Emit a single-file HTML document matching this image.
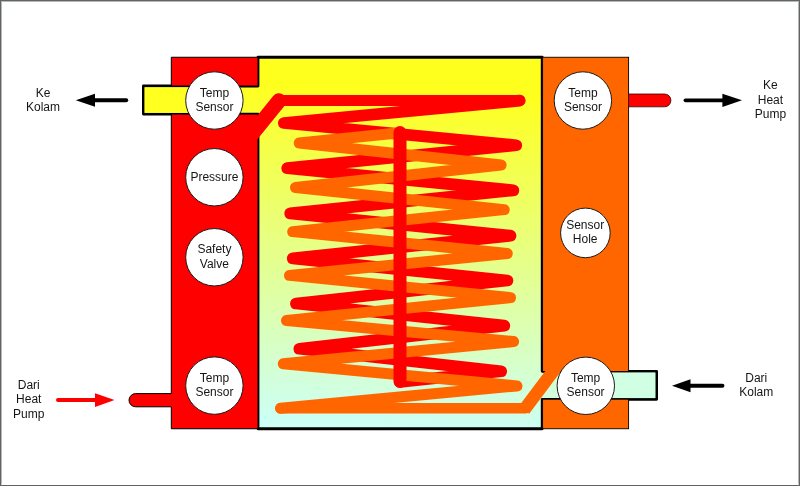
<!DOCTYPE html>
<html>
<head>
<meta charset="utf-8">
<title>Heat Exchanger</title>
<style>
html,body{margin:0;padding:0;background:#fff;}
body{width:800px;height:486px;overflow:hidden;position:relative;}
svg{position:absolute;left:0;top:0;display:block;}
text{font-family:"Liberation Sans",Arial,sans-serif;font-size:12px;fill:#151515;text-anchor:middle;}
</style>
</head>
<body>
<svg width="800" height="486" viewBox="0 0 800 486">
<defs>
<linearGradient id="g" gradientUnits="userSpaceOnUse" x1="258" y1="57" x2="240" y2="429">
<stop offset="0" stop-color="#ffff1e"/>
<stop offset="0.07" stop-color="#ffff1e"/>
<stop offset="0.97" stop-color="#ccfff5"/>
<stop offset="1" stop-color="#ccfff5"/>
</linearGradient>
</defs>
<rect x="0" y="0" width="800" height="486" fill="#ffffff"/>
<!-- outer frame -->
<rect x="0.5" y="0.5" width="799" height="485" fill="none" stroke="#606464" stroke-width="1"/>
<path d="M1.5,484.5 V1.5 H798.5 V484.5" fill="none" stroke="#606464" stroke-opacity="0.45" stroke-width="1"/>

<!-- central tank with pipes -->
<path d="M143.4,86 L258,86 L258,57.25 L542.2,57.25 L542.2,371.3 L656.6,371.3 L656.6,399.35 L542.2,399.35 L542.2,428.75 L258,428.75 L258,114.1 L143.4,114.1 Z" fill="url(#g)" stroke="#000" stroke-width="2.8" stroke-linejoin="round"/>

<rect x="144.5" y="87.2" width="70" height="25.7" fill="#ffff20"/>
<rect x="586" y="372.5" width="69.4" height="25.6" fill="#d0ffe4"/>
<!-- left red box pieces -->
<path d="M171.3,86 V57.25 H258 V86 Z" fill="#ff0000" stroke="#000" stroke-width="1"/>
<path d="M171.3,393.6 V114.1 H258 V428.75 H171.3 V406.8 H135.6 A6.6,6.6 0 0 1 135.6,393.6 Z" fill="#ff0000" stroke="#000" stroke-width="1"/>
<path d="M171.3,394.2 V406.2" stroke="#ff0000" stroke-width="1.4"/>

<!-- right orange box pieces -->
<rect x="542.6" y="57.25" width="86" height="314.35" fill="#ff6600" stroke="#000" stroke-width="0.9"/>
<rect x="542.6" y="399.2" width="86" height="29.55" fill="#ff6600" stroke="#000" stroke-width="0.9"/>
<!-- red stub top right -->
<path d="M628.6,94 H664.5 A6.4,6.4 0 0 1 664.5,106.8 H628.6 Z" fill="#ff0000" stroke="#300" stroke-width="0.8"/>

<!-- red coil -->
<g fill="none" stroke="#ff0000" stroke-linecap="round" stroke-linejoin="round">
<line x1="279" y1="100.45" x2="519.75" y2="100.45" stroke-width="11.1"/>
<polyline stroke-width="11.8" points="519.6,100.6 283.9,123 516.2,145.25 287.25,168.15 513.3,190.3 290.25,213.3 510.5,235.7 292.8,258.3 507.4,280.5 296,303.5 504.3,325.7 299.4,348.75 501.1,371.25 400,381.8"/>
<line x1="279" y1="100.7" x2="250" y2="136.6" stroke-width="14.9"/>
</g>
<!-- orange coil -->
<g fill="none" stroke="#ff6600" stroke-linecap="round" stroke-linejoin="round">
<polyline stroke-width="11" points="400,132.8 299.25,143 501.1,165 295.5,187.5 504.25,209.6 292.7,231.6 507.25,253.5 289.5,275.4 510.5,297.6 286.5,320.4 513.6,341.6 283.3,363.75 517,385.9 280.5,408.3"/>
<line x1="280.5" y1="408.3" x2="525.3" y2="408.3" stroke-width="10.4"/>
<line x1="524.1" y1="409.9" x2="558.5" y2="364" stroke-width="12.8" stroke-linecap="butt"/>
</g>
<!-- red vertical pipe -->
<line x1="400" y1="132.6" x2="400" y2="381.4" stroke="#ff0000" stroke-width="13" stroke-linecap="round"/>

<!-- circles -->
<g fill="#ffffff" stroke="#1a1a1a" stroke-width="1">
<circle cx="214.4" cy="100.5" r="28.7"/>
<circle cx="214.4" cy="177.25" r="28.7"/>
<circle cx="214.4" cy="257.25" r="28.7"/>
<circle cx="214.4" cy="385.6" r="28.7"/>
<circle cx="582.9" cy="100.5" r="28.7"/>
<circle cx="585.4" cy="232.9" r="24.8"/>
<circle cx="585.8" cy="385.8" r="28.7"/>
</g>

<!-- arrows -->
<g fill="#000" stroke="none">
<path d="M75.75,100.25 L95,93.7 L95,106.8 Z"/>
<path d="M742,100.3 L722.4,93.8 L722.4,106.9 Z"/>
<path d="M672,385.75 L690.5,379.25 L690.5,392.25 Z"/>
</g>
<g stroke="#000" stroke-width="3.8" stroke-linecap="round" fill="none">
<line x1="94" y1="100.25" x2="126.3" y2="100.25"/>
<line x1="685.5" y1="100.3" x2="723" y2="100.3"/>
<line x1="690" y1="385.75" x2="722.5" y2="385.75"/>
</g>
<path d="M114.5,400.1 L95,393.3 L95,406.9 Z" fill="#ff0000"/>
<line x1="58" y1="400.1" x2="96" y2="400.1" stroke="#ff0000" stroke-width="4" stroke-linecap="round"/>

<!-- labels -->
<g style="filter:grayscale(1)">
<text x="43" y="96.75">Ke</text>
<text x="43" y="111.25">Kolam</text>
<text x="770.4" y="89">Ke</text>
<text x="770.4" y="103.5">Heat</text>
<text x="770.4" y="118">Pump</text>
<text x="28.75" y="388.75">Dari</text>
<text x="28.75" y="403.25">Heat</text>
<text x="28.75" y="417.75">Pump</text>
<text x="756.25" y="381.75">Dari</text>
<text x="756.25" y="396.25">Kolam</text>

<text x="214.4" y="96.75">Temp</text>
<text x="214.4" y="111.25">Sensor</text>
<text x="214.4" y="180.5">Pressure</text>
<text x="214.4" y="253.25">Safety</text>
<text x="214.4" y="267.75">Valve</text>
<text x="214.4" y="381.75">Temp</text>
<text x="214.4" y="396.25">Sensor</text>
<text x="582.9" y="96.75">Temp</text>
<text x="582.9" y="111.25">Sensor</text>
<text x="585.2" y="228.75">Sensor</text>
<text x="585.2" y="243.25">Hole</text>
<text x="585.6" y="381.75">Temp</text>
<text x="585.6" y="396.25">Sensor</text>
</g>
</svg>
</body>
</html>
